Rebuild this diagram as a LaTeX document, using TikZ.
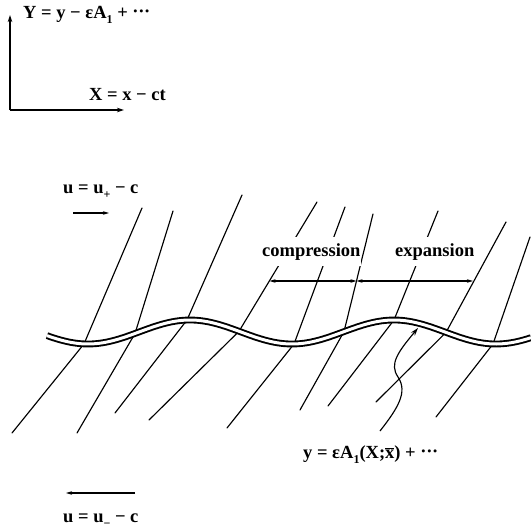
\documentclass[tikz,border=0pt]{standalone}
\usepackage{fontspec}
\setmainfont{Liberation Serif}
\usetikzlibrary{arrows.meta}
\newcommand\subdown[1]{\raisebox{-0.32em}{\fontsize{12}{12}\selectfont #1}}
\newcommand\mydots{\raisebox{0.5pt}{·\kern-0.3pt·\kern-0.3pt·}}
\tikzset{
  charline/.style={line width=1.15pt, line cap=round},
  wave/.style={line width=1.9pt, double=white, double distance=3pt},
  axis/.style={line width=1.2pt, -{Stealth[length=7pt,width=4.5pt]}},
  flow/.style={line width=1.2pt, -{Stealth[length=6pt,width=3.5pt]}},
  span/.style={line width=1.1pt, {Stealth[length=6pt,width=3.5pt]}-{Stealth[length=6pt,width=3.5pt]}},
  ptr/.style={line width=1.15pt, -{Stealth[length=8pt,width=5pt]}},
  lab/.style={font=\fontsize{18.5}{21}\selectfont\bfseries, inner sep=0pt, anchor=base west},
  blank/.style={lab, fill=white, inner xsep=0pt, inner ysep=6pt}
}
\begin{document}
\begin{tikzpicture}[x=1pt,y=-1pt]
\useasboundingbox (0,0) rectangle (531,530);

% axes
\coordinate (O) at (10,110);
\coordinate (Ytip) at (10,15);
\coordinate (Xtip) at (124,110);
\draw[axis] (O) -- (Ytip);
\draw[axis] (O) -- (Xtip);
\node[lab] (Ylab) at (23,18) {Y = y − εA\subdown{1} + \mydots};
\node[lab] (Xlab) at (89,100) {X = x − ct};

% characteristic lines: top, wave point, bottom
\coordinate (tA) at (142,208); \coordinate (wA) at (84,343.9);  \coordinate (bA) at (12,433);
\coordinate (tB) at (173,211); \coordinate (wB) at (135,333.5); \coordinate (bB) at (77,433);
\coordinate (tC) at (242,195); \coordinate (wC) at (187,320.0); \coordinate (bC) at (115,413);
\coordinate (tD) at (317,202); \coordinate (wD) at (239,331.3); \coordinate (bD) at (149,420);
\coordinate (tE) at (345,207); \coordinate (wE) at (294,344.0); \coordinate (bE) at (227,428);
\coordinate (tF) at (373,214); \coordinate (wF) at (344,331.6); \coordinate (bF) at (300,410);
\coordinate (tG) at (438,211); \coordinate (wG) at (394,320.0); \coordinate (bG) at (328,406);
\coordinate (tH) at (506,222); \coordinate (wH) at (446,332.4); \coordinate (bH) at (376,402);
\coordinate (tI) at (530,237); \coordinate (wI) at (493,344.0); \coordinate (bI) at (436,417);
\foreach \n in {A,B,C,D,E,F,G,H,I}{
  \draw[charline] (t\n) -- (w\n) -- (b\n);
}

% interface
\draw[wave] plot[domain=47:531, samples=140, smooth] (\x, {332+12*cos(1.764706*(\x-88))});

% labels interrupting lines
\node[blank] (cmp) at (262,256) {compression};
\node[blank] (exp) at (395,256) {expansion};

% compression / expansion spans
\coordinate (cL) at (269.5,281);
\coordinate (cM) at (356.5,281);
\coordinate (cR) at (473,281);
\draw[span] (cL) -- (cM);
\draw[span] (cM) -- (cR);

% upstream flow
\node[lab] (uplab) at (63,193) {u = u\subdown{+} − c};
\coordinate (f1a) at (73,213); \coordinate (f1b) at (109,213);
\draw[flow] (f1a) -- (f1b);

% downstream flow
\coordinate (f2a) at (135,493); \coordinate (f2b) at (66,493);
\draw[flow] (f2a) -- (f2b);
\node[lab] (umlab) at (63,522) {u = u\subdown{−} − c};

% interface label and pointer
\node[lab] (Alab) at (303,458) {y = εA\subdown{1}(X;$\overline{\mbox{\bfseries x}}$) + \mydots};
\coordinate (pS) at (380,431);
\coordinate (pE) at (418,328);
\draw[ptr] (pS) .. controls (398,408) and (408,392) .. (398,377)
                .. controls (389,364) and (398,352) .. (pE);
\end{tikzpicture}
\end{document}
